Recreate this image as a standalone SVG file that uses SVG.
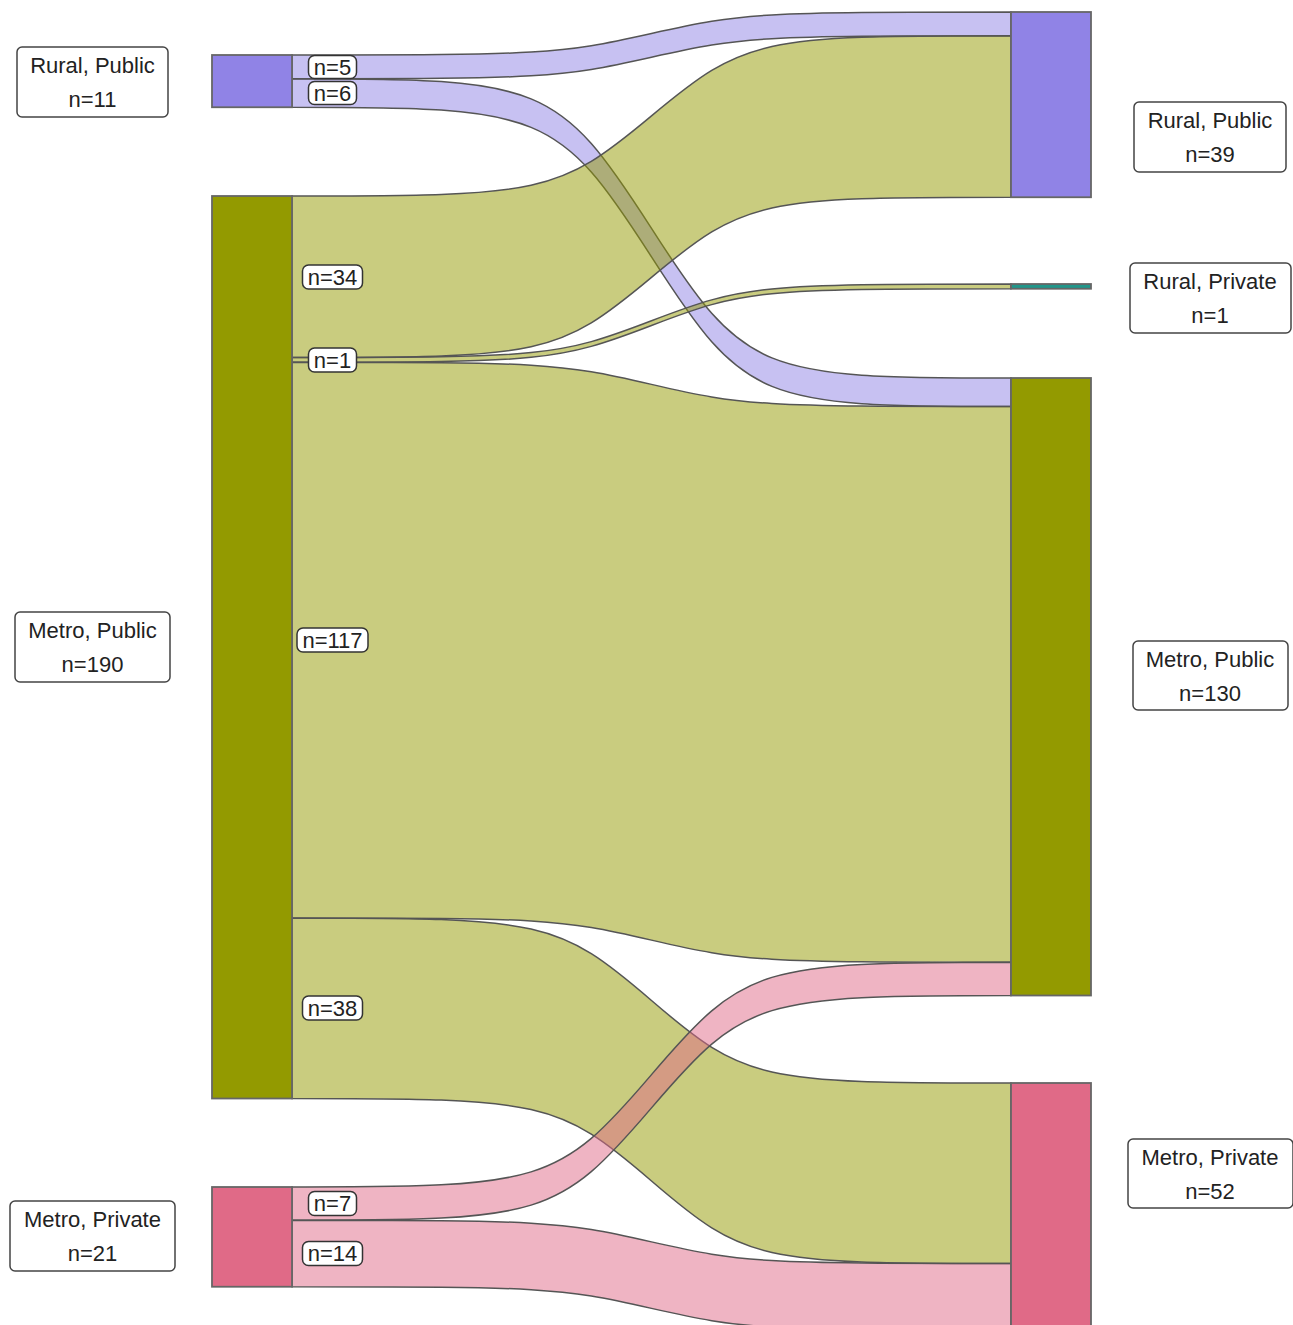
<svg xmlns="http://www.w3.org/2000/svg" width="1293" height="1325" viewBox="0 0 1293 1325">
<style>
.flow{stroke:#555;stroke-width:1.5;fill-opacity:0.5}
.bar{stroke:#666;stroke-width:1.8}
.rp{fill:#9083E6}
.mp{fill:#939A00}
.mv{fill:#E06A87}
.rv{fill:#21968A}
.nbox{fill:#fff;stroke:#444;stroke-width:1.5}
.fbox{fill:#fff;stroke:#333;stroke-width:1.5}
text{font-family:"Liberation Sans",Arial,sans-serif;font-size:22px;fill:#222;text-anchor:middle}
.ft{dominant-baseline:central}
</style>
<rect width="1293" height="1325" fill="#fff"/>
<g id="connectors">
<path class="flow rp" d="M292,55 C543.65,55 558.03,54.46 651.5,33.5 C744.97,12.54 759.35,12 1011,12 L1011,35.75 C759.35,35.75 744.97,36.29 651.5,57.25 C558.03,78.21 543.65,78.75 292,78.75 Z"/>
<path class="flow rp" d="M292,78.75 C543.65,78.75 558.03,82.49 651.5,228.375 C744.97,374.26 759.35,378 1011,378 L1011,406.5 C759.35,406.5 744.97,402.76 651.5,256.875 C558.03,110.99 543.65,107.25 292,107.25 Z"/>
<path class="flow mp" d="M292,196 C543.65,196 558.03,194 651.5,115.875 C744.97,37.75 759.35,35.75 1011,35.75 L1011,197.25 C759.35,197.25 744.97,199.25 651.5,277.375 C558.03,355.5 543.65,357.5 292,357.5 Z"/>
<path class="flow mp" d="M292,357.5 C543.65,357.5 558.03,356.58 651.5,320.75 C744.97,284.92 759.35,284 1011,284 L1011,288.75 C759.35,288.75 744.97,289.67 651.5,325.5 C558.03,361.33 543.65,362.25 292,362.25 Z"/>
<path class="flow mp" d="M292,362.25 C543.65,362.25 558.03,362.8 651.5,384.375 C744.97,405.95 759.35,406.5 1011,406.5 L1011,962.25 C759.35,962.25 744.97,961.7 651.5,940.125 C558.03,918.55 543.65,918 292,918 Z"/>
<path class="flow mp" d="M292,918 C543.65,918 558.03,920.06 651.5,1000.5 C744.97,1080.94 759.35,1083 1011,1083 L1011,1263.5 C759.35,1263.5 744.97,1261.44 651.5,1181 C558.03,1100.56 543.65,1098.5 292,1098.5 Z"/>
<path class="flow mv" d="M292,1187 C543.65,1187 558.03,1184.19 651.5,1074.625 C744.97,965.06 759.35,962.25 1011,962.25 L1011,995.5 C759.35,995.5 744.97,998.31 651.5,1107.875 C558.03,1217.44 543.65,1220.25 292,1220.25 Z"/>
<path class="flow mv" d="M292,1220.25 C543.65,1220.25 558.03,1220.79 651.5,1241.875 C744.97,1262.96 759.35,1263.5 1011,1263.5 L1011,1330 C759.35,1330 744.97,1329.46 651.5,1308.375 C558.03,1287.29 543.65,1286.75 292,1286.75 Z"/>
</g>
<g id="flow-labels">
<g id="lab-n5"><rect class="fbox" x="308.5" y="55.5" width="48" height="23" rx="6"/><text class="ft" x="332.5" y="67">n=5</text></g>
<g id="lab-n6"><rect class="fbox" x="308.5" y="81.5" width="48" height="23" rx="6"/><text class="ft" x="332.5" y="93">n=6</text></g>
<g id="lab-n34"><rect class="fbox" x="302.5" y="265" width="60" height="24" rx="6"/><text class="ft" x="332.5" y="277">n=34</text></g>
<g id="lab-n1"><rect class="fbox" x="308.5" y="348" width="48" height="24" rx="6"/><text class="ft" x="332.5" y="360">n=1</text></g>
<g id="lab-n117"><rect class="fbox" x="297" y="628" width="71" height="24" rx="6"/><text class="ft" x="332.5" y="640">n=117</text></g>
<g id="lab-n38"><rect class="fbox" x="302.5" y="996" width="60" height="24" rx="6"/><text class="ft" x="332.5" y="1008">n=38</text></g>
<g id="lab-n7"><rect class="fbox" x="308.5" y="1191.5" width="48" height="24" rx="6"/><text class="ft" x="332.5" y="1203.5">n=7</text></g>
<g id="lab-n14"><rect class="fbox" x="302.5" y="1241.5" width="60" height="24" rx="6"/><text class="ft" x="332.5" y="1253.5">n=14</text></g>
</g>
<g id="left-rural-public">
<rect class="bar rp" x="212" y="55" width="80" height="52.25"/>
<rect class="nbox" x="17" y="47" width="151" height="70" rx="5"/>
<text x="92.5" y="73">Rural, Public</text><text x="92.5" y="107">n=11</text>
</g>
<g id="left-metro-public">
<rect class="bar mp" x="212" y="196" width="80" height="902.5"/>
<rect class="nbox" x="15" y="612" width="155" height="70" rx="5"/>
<text x="92.5" y="638">Metro, Public</text><text x="92.5" y="672">n=190</text>
</g>
<g id="left-metro-private">
<rect class="bar mv" x="212" y="1187" width="80" height="99.75"/>
<rect class="nbox" x="10" y="1201" width="165" height="70" rx="5"/>
<text x="92.5" y="1227">Metro, Private</text><text x="92.5" y="1261">n=21</text>
</g>
<g id="right-rural-public">
<rect class="bar rp" x="1011" y="12" width="80" height="185.25"/>
<rect class="nbox" x="1134" y="102" width="152" height="70" rx="5"/>
<text x="1210" y="128">Rural, Public</text><text x="1210" y="162">n=39</text>
</g>
<g id="right-rural-private">
<rect class="bar rv" x="1011" y="284" width="80" height="4.75"/>
<rect class="nbox" x="1130" y="263" width="161" height="70" rx="5"/>
<text x="1210" y="289">Rural, Private</text><text x="1210" y="323">n=1</text>
</g>
<g id="right-metro-public">
<rect class="bar mp" x="1011" y="378" width="80" height="617.5"/>
<rect class="nbox" x="1133" y="641" width="155" height="69" rx="5"/>
<text x="1210" y="667">Metro, Public</text><text x="1210" y="701">n=130</text>
</g>
<g id="right-metro-private">
<rect class="bar mv" x="1011" y="1083" width="80" height="247"/>
<rect class="nbox" x="1128" y="1139" width="165" height="69" rx="5"/>
<text x="1210" y="1165">Metro, Private</text><text x="1210" y="1199">n=52</text>
</g>
</svg>
